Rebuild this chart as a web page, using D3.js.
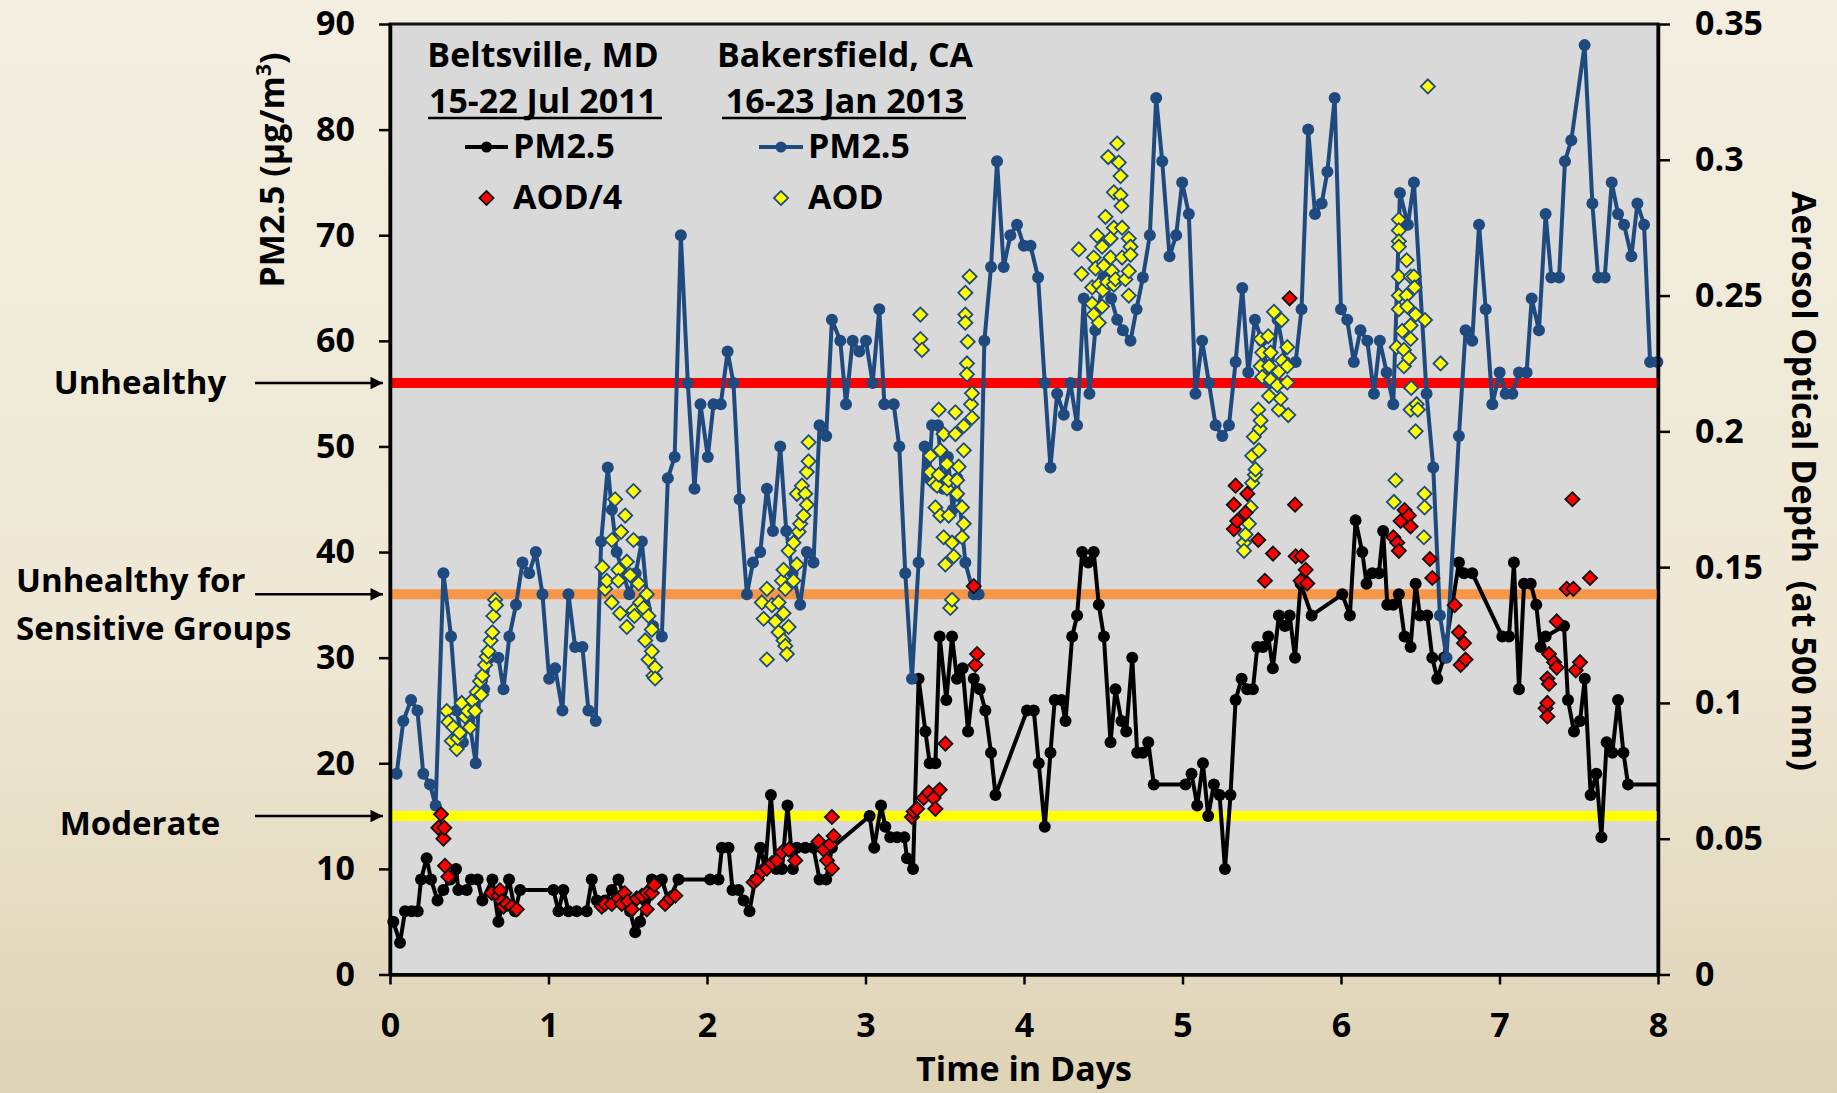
<!DOCTYPE html>
<html>
<head>
<meta charset="utf-8">
<script src="https://cdn.jsdelivr.net/npm/d3@7"></script>
<style>
  body { margin: 0; }
  text { font-family: 'Open Sans', sans-serif; font-weight: bold; fill: #000; }
</style>
</head>
<body>
<div id="chart"></div>
<script>
// [day, PM2.5 ug/m3]
const bakersfieldPm = [
  [0.042,19],[0.084,24],[0.133,26],[0.173,25],[0.21,19],[0.252,18],[0.288,16],[0.337,38],[0.385,32],[0.42,25],
  [0.46,22],[0.50,24],[0.541,20],[0.565,27],[0.594,27],[0.63,30],[0.684,30],[0.716,27],[0.753,32],[0.795,35],
  [0.836,39],[0.878,38],[0.92,40],[0.962,36],[1.004,28],[1.042,29],[1.088,25],[1.126,36],[1.168,31],[1.214,31],
  [1.252,25],[1.298,24],[1.332,41],[1.374,48],[1.40,44],[1.43,40],[1.47,38],[1.51,36],[1.55,38],[1.589,41],
  [1.62,36],[1.66,33],[1.715,32],[1.753,47],[1.796,49],[1.835,70],[1.879,56],[1.921,46],[1.959,54],[2.005,49],
  [2.041,54],[2.087,54],[2.13,59],[2.167,56],[2.205,45],[2.252,36],[2.29,39],[2.336,40],[2.378,46],[2.416,42],
  [2.462,50],[2.50,42],[2.54,38],[2.588,35],[2.63,40],[2.672,39],[2.71,52],[2.752,51],[2.788,62],[2.841,60],
  [2.877,54],[2.919,60],[2.961,59],[3.003,60],[3.045,56],[3.087,63],[3.119,54],[3.178,54],[3.213,50],[3.251,38],
  [3.293,28],[3.335,39],[3.373,50],[3.40,47],[3.42,52],[3.457,52],[3.49,46],[3.52,49],[3.55,44],[3.58,47],
  [3.63,39],[3.683,36],[3.714,36],[3.75,60],[3.792,67],[3.83,77],[3.872,67],[3.914,70],[3.956,71],[3.999,69],
  [4.041,69],[4.089,66],[4.131,56],[4.167,48],[4.209,55],[4.251,53],[4.293,56],[4.335,52],[4.377,64],[4.413,55],
  [4.45,61],[4.50,66],[4.55,64],[4.588,62],[4.624,61],[4.672,60],[4.71,63],[4.75,66],[4.794,70],[4.834,83],
  [4.872,77],[4.918,68],[4.96,70],[4.998,75],[5.04,72],[5.082,55],[5.124,60],[5.167,56],[5.209,52],[5.251,51],
  [5.293,52],[5.335,58],[5.377,65],[5.415,57],[5.457,62],[5.50,60],[5.55,56],[5.60,62],[5.65,58],[5.714,58],
  [5.751,63],[5.793,80],[5.836,72],[5.878,73],[5.914,76],[5.96,83],[6.0,63],[6.039,62],[6.081,58],[6.123,61],
  [6.166,60],[6.208,55],[6.245,60],[6.288,57],[6.33,54],[6.372,74],[6.422,71],[6.46,75],[6.54,55],[6.582,48],
  [6.624,34],[6.666,30],[6.744,51],[6.786,61],[6.828,60],[6.871,71],[6.913,63],[6.955,54],[7.001,57],[7.039,55],
  [7.081,55],[7.123,57],[7.171,57],[7.203,64],[7.249,61],[7.291,72],[7.327,66],[7.376,66],[7.413,77],[7.453,79],
  [7.537,88],[7.586,73],[7.622,66],[7.664,66],[7.708,75],[7.748,72],[7.786,71],[7.832,68],[7.87,73],[7.912,71],
  [7.95,58],[7.996,58]
];

const beltsvillePm = [
  [0.021,5],[0.063,3],[0.095,6],[0.137,6],[0.175,6],[0.196,9],[0.231,11],[0.259,9],[0.3,7],[0.337,8],
  [0.38,9],[0.417,10],[0.431,8],[0.484,8],[0.511,9],[0.553,9],[0.583,7],[0.646,9],[0.684,5],[0.716,7],
  [0.751,9],[0.789,6],[0.821,8],[1.031,8],[1.063,6],[1.094,8],[1.126,6],[1.178,6],[1.241,6],[1.273,9],
  [1.305,7],[1.357,7],[1.399,8],[1.441,9],[1.484,7],[1.515,6],[1.547,4],[1.578,5],[1.61,7],[1.652,9],
  [1.715,9],[1.757,7],[1.82,9],[2.02,9],[2.073,9],[2.094,12],[2.136,12],[2.161,8],[2.199,8],[2.231,7],
  [2.268,6],[2.304,9],[2.336,12],[2.367,10],[2.403,17],[2.437,10],[2.473,10],[2.508,16],[2.542,10],[2.567,12],
  [2.62,12],[2.672,12],[2.71,9],[2.752,9],[2.788,12],[3.026,15],[3.055,12],[3.098,16],[3.125,14],[3.156,13],
  [3.199,13],[3.245,13],[3.262,11],[3.3,10],[3.335,28],[3.378,23],[3.405,20],[3.441,20],[3.468,32],[3.51,26],
  [3.546,32],[3.577,28],[3.613,29],[3.647,23],[3.683,28],[3.721,27],[3.756,25],[3.792,21],[3.82,17],[4.019,25],
  [4.062,25],[4.093,20],[4.131,14],[4.167,21],[4.194,26],[4.236,26],[4.262,24],[4.304,32],[4.335,34],[4.367,40],
  [4.405,39],[4.44,40],[4.472,35],[4.504,32],[4.546,22],[4.577,27],[4.615,24],[4.645,23],[4.683,30],[4.714,21],
  [4.75,21],[4.784,22],[4.819,18],[5.019,18],[5.057,19],[5.093,16],[5.129,20],[5.162,15],[5.198,18],[5.234,17],
  [5.268,10],[5.303,17],[5.335,26],[5.373,28],[5.408,27],[5.444,27],[5.472,31],[5.507,31],[5.541,32],[5.57,29],
  [5.608,34],[5.646,33],[5.676,34],[5.71,30],[5.745,37],[5.815,34],[6.008,36],[6.056,34],[6.092,43],[6.134,40],
  [6.161,37],[6.197,38],[6.239,38],[6.266,42],[6.292,35],[6.33,35],[6.365,36],[6.401,32],[6.439,31],[6.471,37],
  [6.498,34],[6.544,34],[6.576,30],[6.607,28],[6.649,30],[6.744,39],[6.776,38],[6.828,38],[7.018,32],[7.06,32],
  [7.091,39],[7.123,27],[7.155,37],[7.197,37],[7.232,35],[7.26,31],[7.291,32],[7.407,33],[7.432,26],[7.47,23],
  [7.508,24],[7.538,28],[7.575,17],[7.611,19],[7.643,13],[7.676,22],[7.712,21],[7.748,26],[7.782,21],[7.811,18],
  [8.0,18]
];

// [day, AOD at 500 nm] (right axis)
const bakersfieldAod = [
  [0.358,0.097],[0.368,0.093],[0.39,0.086],[0.40,0.091],[0.421,0.083],[0.427,0.087],[0.44,0.089],[0.452,0.100],
  [0.473,0.095],[0.49,0.097],[0.505,0.091],[0.52,0.101],[0.537,0.097],[0.547,0.104],[0.568,0.108],[0.575,0.103],
  [0.583,0.110],[0.6,0.114],[0.61,0.117],[0.621,0.119],[0.635,0.123],[0.646,0.126],[0.652,0.132],[0.663,0.138],
  [0.669,0.136],
  [1.34,0.150],[1.357,0.142],[1.368,0.145],[1.399,0.137],[1.4,0.160],[1.42,0.175],[1.441,0.149],[1.441,0.145],
  [1.452,0.133],[1.458,0.163],[1.484,0.169],[1.494,0.152],[1.494,0.128],[1.515,0.147],[1.536,0.178],[1.536,0.160],
  [1.536,0.134],[1.542,0.132],[1.568,0.144],[1.578,0.137],[1.6,0.135],[1.61,0.123],[1.62,0.140],[1.631,0.132],
  [1.631,0.116],[1.652,0.127],[1.652,0.119],[1.662,0.110],[1.673,0.113],[1.673,0.109],
  [2.346,0.137],[2.357,0.131],[2.378,0.116],[2.378,0.142],[2.41,0.136],[2.43,0.130],[2.452,0.126],[2.452,0.137],
  [2.473,0.145],[2.483,0.123],[2.483,0.133],[2.483,0.149],[2.494,0.121],[2.494,0.142],[2.504,0.118],[2.515,0.128],
  [2.515,0.156],[2.546,0.159],[2.546,0.145],[2.567,0.151],[2.567,0.177],[2.578,0.163],[2.588,0.166],[2.599,0.180],
  [2.609,0.169],[2.62,0.177],[2.63,0.173],[2.63,0.185],[2.641,0.189],[2.641,0.196],
  [3.346,0.243],[3.346,0.234],[3.356,0.230],[3.409,0.191],[3.409,0.185],[3.43,0.181],[3.441,0.172],[3.451,0.180],
  [3.462,0.208],[3.462,0.184],[3.472,0.193],[3.472,0.169],[3.493,0.199],[3.493,0.161],[3.504,0.151],[3.514,0.188],
  [3.514,0.179],[3.525,0.182],[3.525,0.169],[3.535,0.135],[3.546,0.159],[3.546,0.138],[3.557,0.154],[3.567,0.207],
  [3.567,0.199],[3.578,0.182],[3.578,0.177],[3.588,0.187],[3.609,0.172],[3.609,0.161],[3.62,0.202],[3.62,0.193],
  [3.62,0.166],[3.63,0.251],[3.63,0.243],[3.63,0.240],[3.64,0.225],[3.64,0.221],[3.645,0.233],[3.657,0.257],
  [3.666,0.210],[3.672,0.214],[3.672,0.205],
  [4.346,0.267],[4.363,0.258],[4.43,0.253],[4.43,0.247],[4.44,0.264],[4.44,0.243],[4.451,0.260],[4.462,0.272],
  [4.472,0.254],[4.472,0.240],[4.493,0.268],[4.493,0.246],[4.497,0.252],[4.504,0.261],[4.514,0.279],[4.525,0.255],
  [4.531,0.301],[4.546,0.271],[4.546,0.264],[4.556,0.259],[4.567,0.288],[4.567,0.275],[4.567,0.254],[4.577,0.256],
  [4.588,0.306],[4.598,0.299],[4.609,0.294],[4.609,0.287],[4.615,0.283],[4.619,0.275],[4.619,0.264],[4.64,0.256],
  [4.661,0.271],[4.661,0.259],[4.661,0.250],[4.672,0.268],[4.672,0.265],
  [5.388,0.159],[5.388,0.156],[5.398,0.162],[5.419,0.166],[5.43,0.172],[5.44,0.191],[5.44,0.181],[5.45,0.198],
  [5.457,0.184],[5.461,0.186],[5.478,0.208],[5.482,0.193],[5.487,0.201],[5.493,0.234],[5.493,0.224],[5.493,0.204],
  [5.503,0.229],[5.503,0.220],[5.541,0.235],[5.546,0.224],[5.546,0.213],[5.556,0.229],[5.556,0.219],[5.577,0.244],
  [5.598,0.217],[5.608,0.222],[5.608,0.208],[5.619,0.212],[5.625,0.241],[5.629,0.226],[5.661,0.231],[5.661,0.224],
  [5.661,0.218],[5.667,0.206],
  [6.334,0.174],[6.344,0.182],[6.351,0.231],[6.365,0.278],[6.365,0.274],[6.365,0.270],[6.365,0.268],[6.365,0.257],
  [6.365,0.250],[6.365,0.245],[6.386,0.237],[6.397,0.230],[6.397,0.224],[6.414,0.263],[6.414,0.250],[6.418,0.246],
  [6.429,0.227],[6.439,0.257],[6.439,0.239],[6.439,0.234],[6.439,0.208],[6.443,0.216],[6.46,0.257],[6.464,0.253],
  [6.471,0.243],[6.471,0.200],[6.477,0.210],[6.485,0.208],[6.523,0.161],[6.527,0.177],[6.527,0.172],[6.53,0.241],
  [6.548,0.327],[6.628,0.225]
];

// [day, AOD/4] (right axis)
const beltsvilleAod4 = [
  [0.305,0.054],[0.322,0.059],[0.337,0.050],[0.343,0.054],[0.347,0.040],[0.368,0.036],
  [0.642,0.030],[0.684,0.029],[0.694,0.031],[0.705,0.027],[0.716,0.025],[0.737,0.026],[0.768,0.025],[0.8,0.024],
  [1.336,0.025],[1.357,0.026],[1.399,0.026],[1.441,0.028],[1.462,0.026],[1.48,0.030],[1.5,0.027],[1.526,0.024],
  [1.557,0.028],[1.589,0.029],[1.62,0.030],[1.62,0.024],[1.652,0.030],[1.668,0.033],[1.736,0.026],[1.768,0.028],
  [1.8,0.029],
  [2.294,0.034],[2.315,0.035],[2.346,0.038],[2.378,0.039],[2.41,0.041],[2.441,0.042],[2.473,0.045],[2.515,0.046],
  [2.557,0.042],[2.704,0.049],[2.736,0.046],[2.757,0.042],[2.778,0.048],[2.788,0.058],[2.788,0.039],[2.799,0.051],
  [3.293,0.058],[3.304,0.060],[3.325,0.061],[3.367,0.065],[3.399,0.067],[3.43,0.065],[3.441,0.061],[3.468,0.068],
  [3.504,0.085],[3.683,0.143],[3.693,0.114],[3.704,0.118],
  [5.324,0.173],[5.324,0.164],[5.335,0.180],[5.345,0.167],[5.398,0.170],[5.409,0.177],[5.478,0.160],[5.52,0.145],
  [5.571,0.155],[5.676,0.249],[5.71,0.173],[5.714,0.154],[5.745,0.145],[5.751,0.154],[5.777,0.149],[5.787,0.144],
  [6.33,0.161],[6.355,0.159],[6.365,0.156],[6.376,0.167],[6.401,0.171],[6.428,0.169],[6.439,0.165],[6.561,0.153],
  [6.576,0.146],[6.717,0.136],[6.744,0.126],[6.755,0.114],[6.776,0.122],[6.786,0.116],
  [7.291,0.098],[7.302,0.109],[7.302,0.100],[7.302,0.095],[7.312,0.118],[7.312,0.107],[7.344,0.115],[7.361,0.130],
  [7.361,0.113],[7.424,0.142],[7.46,0.175],[7.466,0.142],[7.481,0.112],[7.508,0.115],[7.571,0.146]
];

const pmTicks = [0, 10, 20, 30, 40, 50, 60, 70, 80, 90];
const aodTicks = [0, 0.05, 0.1, 0.15, 0.2, 0.25, 0.3, 0.35];
const dayTicks = [0, 1, 2, 3, 4, 5, 6, 7, 8];
const aqiLevels = [56, 36, 15];
const aqiNames = [['Unhealthy'], ['Unhealthy for', 'Sensitive Groups'], ['Moderate']];

function drawChart() {
  const W = 1837, H = 1093;
  const margin = {top: 24, right: 179, bottom: 118.5, left: 390};
  const width = W - margin.left - margin.right;
  const height = H - margin.top - margin.bottom;

  const blue = '#1f4a7f';

  const svg = d3.select('#chart')
    .append('svg')
      .attr('width', W)
      .attr('height', H);

  // background
  const defs = svg.append('defs');
  const grad = defs.append('linearGradient')
      .attr('id', 'bg')
      .attr('x1', 0).attr('y1', 0).attr('x2', 0).attr('y2', 1);
  grad.append('stop').attr('offset', 0).attr('stop-color', '#f3eee0');
  grad.append('stop').attr('offset', 0.6).attr('stop-color', '#eee7d4');
  grad.append('stop').attr('offset', 1).attr('stop-color', '#dfd3b5');
  svg.append('rect').attr('width', W).attr('height', H).attr('fill', 'url(#bg)');

  const g = svg.append('g')
      .attr('transform', `translate(${margin.left},${margin.top})`);

  const x = d3.scaleLinear().domain([0, 8]).range([0, width]);
  const yPm = d3.scaleLinear().domain([0, 90]).range([height, 0]);
  const yAod = d3.scaleLinear().domain([0, 0.35]).range([height, 0]);

  g.append('rect')
      .attr('width', width)
      .attr('height', height)
      .attr('fill', '#d9d9d9')
      .attr('stroke', '#111')
      .attr('stroke-width', 3);

  // AQI levels
  const levelColor = ['#ff0000', '#f79646', '#ffff00'];
  g.selectAll('.level')
    .data(aqiLevels)
    .join('line')
      .attr('class', 'level')
      .attr('x1', 0)
      .attr('x2', width)
      .attr('y1', d => yPm(d))
      .attr('y2', d => yPm(d))
      .attr('stroke', (d, i) => levelColor[i])
      .attr('stroke-width', 10);

  // arrows + labels on the left
  defs.append('marker')
      .attr('id', 'arrow')
      .attr('viewBox', '0 0 10 10')
      .attr('refX', 10).attr('refY', 5)
      .attr('markerWidth', 7).attr('markerHeight', 5)
      .attr('markerUnits', 'strokeWidth')
      .attr('orient', 'auto')
    .append('path')
      .attr('d', 'M0,0L10,5L0,10Z')
      .attr('fill', '#000');

  svg.selectAll('.arrow')
    .data(aqiLevels)
    .join('line')
      .attr('class', 'arrow')
      .attr('x1', 255)
      .attr('x2', 383)
      .attr('y1', d => margin.top + yPm(d))
      .attr('y2', d => margin.top + yPm(d))
      .attr('stroke', '#000')
      .attr('stroke-width', 2.5)
      .attr('marker-end', 'url(#arrow)');

  const labelPos = [
    {x: 140, anchor: 'middle', dy: [11]},
    {x: 16, anchor: 'start', dy: [-2, 46]},
    {x: 140, anchor: 'middle', dy: [19]}
  ];
  aqiNames.forEach((lines, i) => {
    lines.forEach((s, j) => {
      svg.append('text')
        .attr('x', labelPos[i].x)
        .attr('y', margin.top + yPm(aqiLevels[i]) + labelPos[i].dy[j])
        .attr('text-anchor', labelPos[i].anchor)
        .attr('font-size', 33)
        .text(s);
    });
  });

  // series
  const pmLine = d3.line().x(d => x(d[0])).y(d => yPm(d[1]));

  g.append('path')
      .datum(beltsvillePm)
      .attr('d', pmLine)
      .attr('fill', 'none')
      .attr('stroke', '#000')
      .attr('stroke-width', 4)
      .attr('stroke-linejoin', 'round');

  g.selectAll('.blackDot')
    .data(beltsvillePm.filter(d => d[0] < 8))
    .join('circle')
      .attr('class', 'blackDot')
      .attr('cx', d => x(d[0]))
      .attr('cy', d => yPm(d[1]))
      .attr('r', 6)
      .attr('fill', '#000');

  g.append('path')
      .datum(bakersfieldPm)
      .attr('d', pmLine)
      .attr('fill', 'none')
      .attr('stroke', blue)
      .attr('stroke-width', 4)
      .attr('stroke-linejoin', 'round');

  g.selectAll('.blueDot')
    .data(bakersfieldPm)
    .join('circle')
      .attr('class', 'blueDot')
      .attr('cx', d => x(d[0]))
      .attr('cy', d => yPm(d[1]))
      .attr('r', 6)
      .attr('fill', blue);

  const diamond = d3.symbol().type(d3.symbolSquare).size(100);

  g.selectAll('.aod')
    .data(bakersfieldAod)
    .join('path')
      .attr('class', 'aod')
      .attr('d', diamond)
      .attr('transform', d => `translate(${x(d[0])},${yAod(d[1])}) rotate(45)`)
      .attr('fill', '#ffff00')
      .attr('stroke', blue)
      .attr('stroke-width', 1.8);

  g.selectAll('.aod4')
    .data(beltsvilleAod4)
    .join('path')
      .attr('class', 'aod4')
      .attr('d', diamond)
      .attr('transform', d => `translate(${x(d[0])},${yAod(d[1])}) rotate(45)`)
      .attr('fill', '#ff0000')
      .attr('stroke', '#111')
      .attr('stroke-width', 1.8);

  // axes
  const axisL = g.append('g')
      .call(d3.axisLeft(yPm).tickValues(pmTicks).tickSize(11).tickSizeOuter(0).tickPadding(24));
  const axisR = g.append('g')
      .attr('transform', `translate(${width},0)`)
      .call(d3.axisRight(yAod).tickValues(aodTicks).tickFormat(d3.format('~g'))
        .tickSize(12).tickSizeOuter(0).tickPadding(25));
  const axisB = g.append('g')
      .attr('transform', `translate(0,${height})`)
      .call(d3.axisBottom(x).tickValues(dayTicks).tickSize(10).tickSizeOuter(0).tickPadding(28));

  [axisL, axisR, axisB].forEach(a => {
    a.select('.domain').attr('stroke', '#000').attr('stroke-width', 3.5);
    a.selectAll('.tick line').attr('stroke', '#000').attr('stroke-width', 2.5);
    a.selectAll('.tick text')
      .attr('font-size', 34)
      .attr('font-family', "'Open Sans', sans-serif")
      .attr('font-weight', 'bold')
      .attr('fill', '#000');
  });

  // axis titles
  svg.append('text')
      .attr('x', margin.left + width / 2)
      .attr('y', 1081)
      .attr('text-anchor', 'middle')
      .attr('font-size', 34)
      .text('Time in Days');

  const yTitle = svg.append('text')
      .attr('transform', 'translate(284,170) rotate(-90)')
      .attr('text-anchor', 'middle')
      .attr('font-size', 34);
  yTitle.append('tspan').text('PM2.5 (µg/m');
  yTitle.append('tspan').attr('font-size', 21).attr('dy', -13).text('3');
  yTitle.append('tspan').attr('dy', 13).text(')');

  svg.append('text')
      .attr('transform', 'translate(1792,481) rotate(90)')
      .attr('text-anchor', 'middle')
      .attr('font-size', 34)
      .style('white-space', 'pre')
      .text('Aerosol Optical Depth  (at 500 nm)');

  // legend
  const legend = [
    {cx: 543, title: 'Beltsville, MD', dates: '15-22 Jul 2011', color: '#000', fill: '#ff0000', edge: '#111', aod: 'AOD/4', ux: [428, 662], lx: [465, 508], tx: 513},
    {cx: 845, title: 'Bakersfield, CA', dates: '16-23 Jan 2013', color: blue, fill: '#ffff00', edge: blue, aod: 'AOD', ux: [722, 966], lx: [759, 803], tx: 808}
  ];
  legend.forEach(l => {
    svg.append('text').attr('x', l.cx).attr('y', 67).attr('text-anchor', 'middle')
      .attr('font-size', 34).text(l.title);
    svg.append('text').attr('x', l.cx).attr('y', 113).attr('text-anchor', 'middle')
      .attr('font-size', 34).text(l.dates);
    svg.append('line').attr('x1', l.ux[0]).attr('x2', l.ux[1]).attr('y1', 118).attr('y2', 118)
      .attr('stroke', '#000').attr('stroke-width', 2.5);
    svg.append('line').attr('x1', l.lx[0]).attr('x2', l.lx[1]).attr('y1', 147).attr('y2', 147)
      .attr('stroke', l.color).attr('stroke-width', 4);
    svg.append('circle').attr('cx', (l.lx[0] + l.lx[1]) / 2).attr('cy', 147).attr('r', 5.5)
      .attr('fill', l.color);
    svg.append('text').attr('x', l.tx).attr('y', 158).attr('font-size', 34).text('PM2.5');
    svg.append('path').attr('d', diamond)
      .attr('transform', `translate(${(l.lx[0] + l.lx[1]) / 2},198) rotate(45)`)
      .attr('fill', l.fill).attr('stroke', l.edge).attr('stroke-width', 1.8);
    svg.append('text').attr('x', l.tx).attr('y', 209).attr('font-size', 34).text(l.aod);
  });
}

drawChart();
</script>
</body>
</html>
